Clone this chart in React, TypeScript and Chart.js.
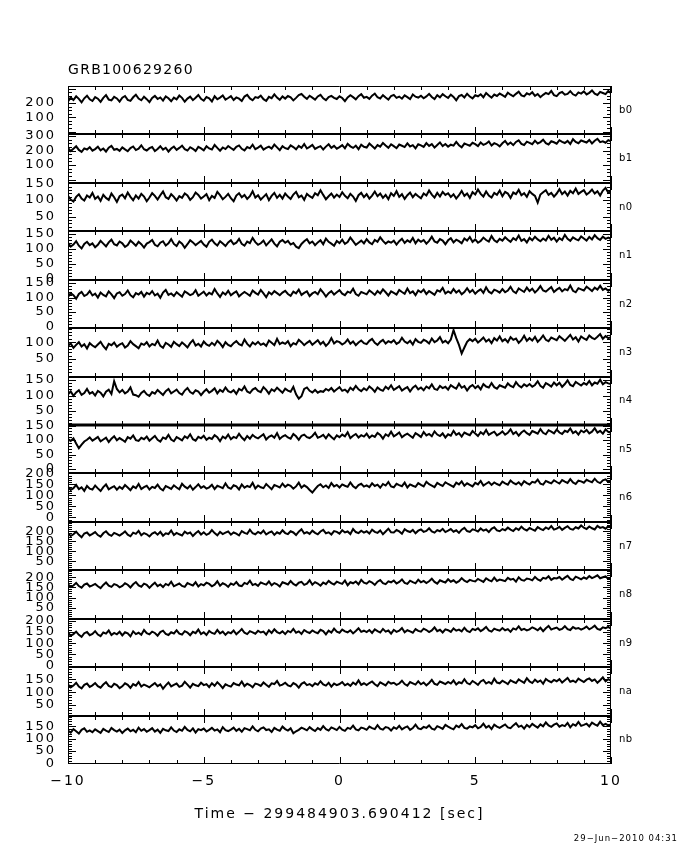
import React, { useEffect, useRef } from "react";
import { Chart, registerables } from "chart.js";

Chart.register(...registerables);

// ---- data -------------------------------------------------------------
const times = [
  -10,-9.9,-9.8,-9.7,-9.6,-9.5,-9.4,-9.3,-9.2,-9.1,
  -9,-8.9,-8.8,-8.7,-8.6,-8.5,-8.4,-8.3,-8.2,-8.1,
  -8,-7.9,-7.8,-7.7,-7.6,-7.5,-7.4,-7.3,-7.2,-7.1,
  -7,-6.9,-6.8,-6.7,-6.6,-6.5,-6.4,-6.3,-6.2,-6.1,
  -6,-5.9,-5.8,-5.7,-5.6,-5.5,-5.4,-5.3,-5.2,-5.1,
  -5,-4.9,-4.8,-4.7,-4.6,-4.5,-4.4,-4.3,-4.2,-4.1,
  -4,-3.9,-3.8,-3.7,-3.6,-3.5,-3.4,-3.3,-3.2,-3.1,
  -3,-2.9,-2.8,-2.7,-2.6,-2.5,-2.4,-2.3,-2.2,-2.1,
  -2,-1.9,-1.8,-1.7,-1.6,-1.5,-1.4,-1.3,-1.2,-1.1,
  -1,-0.9,-0.8,-0.7,-0.6,-0.5,-0.4,-0.3,-0.2,-0.1,
  0,0.1,0.2,0.3,0.4,0.5,0.6,0.7,0.8,0.9,
  1,1.1,1.2,1.3,1.4,1.5,1.6,1.7,1.8,1.9,
  2,2.1,2.2,2.3,2.4,2.5,2.6,2.7,2.8,2.9,
  3,3.1,3.2,3.3,3.4,3.5,3.6,3.7,3.8,3.9,
  4,4.1,4.2,4.3,4.4,4.5,4.6,4.7,4.8,4.9,
  5,5.1,5.2,5.3,5.4,5.5,5.6,5.7,5.8,5.9,
  6,6.1,6.2,6.3,6.4,6.5,6.6,6.7,6.8,6.9,
  7,7.1,7.2,7.3,7.4,7.5,7.6,7.7,7.8,7.9,
  8,8.1,8.2,8.3,8.4,8.5,8.6,8.7,8.8,8.9,
  9,9.1,9.2,9.3,9.4,9.5,9.6,9.7,9.8,9.9,
  10];

const b0Rates = [
  212,238,221,247,229,205,233,251,226,214,
  241,230,208,236,255,224,218,243,232,210,
  237,249,222,215,240,258,231,219,244,227,
  206,235,250,228,239,217,246,233,212,238,
  225,252,236,209,231,244,220,237,256,229,
  216,242,233,211,247,226,238,253,224,235,
  248,221,239,230,214,245,257,232,219,241,
  236,252,227,215,243,234,260,238,222,246,
  231,249,240,218,236,255,263,244,229,251,
  238,224,246,257,233,220,242,250,236,228,
  247,235,213,239,254,241,226,248,262,237,
  243,229,251,266,240,232,255,238,224,249,
  257,236,245,230,253,241,227,259,244,238,
  251,233,246,264,242,228,255,240,262,247,
  236,258,243,219,248,256,239,265,245,232,
  254,247,261,240,270,252,238,259,249,266,
  255,243,272,258,247,264,279,253,246,268,
  259,275,250,263,241,257,270,262,284,255,
  248,269,277,258,264,283,261,252,274,266,
  281,260,271,288,265,256,278,270,262,285,
  268];

const b1Rates = [
  218,196,213,229,204,191,215,207,223,199,
  210,226,201,214,193,219,232,205,211,198,
  222,208,195,217,228,203,213,236,209,200,
  216,224,197,211,230,206,219,193,214,227,
  205,218,233,209,200,223,212,196,225,215,
  202,229,214,207,238,218,199,221,210,231,
  217,204,226,235,212,201,224,215,240,209,
  220,233,206,218,227,213,241,222,203,230,
  216,210,236,224,208,232,219,245,214,225,
  238,211,222,230,207,227,243,218,232,213,
  224,237,215,246,229,218,233,209,240,226,
  221,248,231,214,238,227,252,235,219,242,
  230,216,241,233,224,249,228,237,215,243,
  236,225,251,232,244,220,238,256,231,245,
  227,240,234,259,237,222,248,241,233,253,
  244,230,256,239,247,262,235,251,243,229,
  250,266,241,255,237,259,270,246,238,261,
  253,244,268,249,258,275,251,242,264,257,
  247,271,260,252,266,245,278,259,250,269,
  262,255,273,249,267,281,258,264,254,272,
  263];

const n0Rates = [
  112,101,95,109,117,104,98,113,107,121,
  103,110,97,115,106,100,119,108,94,111,
  116,105,122,109,99,113,104,118,110,96,
  107,120,112,101,114,125,108,103,117,109,
  98,111,106,119,113,100,108,122,115,104,
  110,117,99,112,106,124,114,102,109,118,
  105,96,113,120,108,115,103,111,126,107,
  114,101,109,117,99,112,121,106,115,104,
  119,110,103,116,124,108,113,100,118,111,
  106,120,114,129,115,102,111,119,107,116,
  109,123,112,105,118,110,97,114,121,108,
  117,104,113,125,111,119,106,115,102,120,
  112,126,109,117,103,114,122,108,118,111,
  105,119,113,128,116,107,121,110,124,115,
  120,109,117,104,114,127,112,119,106,123,
  116,131,118,110,125,113,107,121,115,128,
  111,124,119,106,122,117,130,114,120,109,
  126,118,112,92,116,123,129,115,121,110,
  119,132,117,125,113,127,120,134,118,124,
  129,116,122,131,119,126,113,128,136,121,
  127];

const n1Rates = [
  121,108,115,126,111,102,117,124,113,119,
  106,114,127,118,109,122,131,116,112,125,
  119,107,113,128,120,111,124,116,105,118,
  123,130,114,109,121,126,112,119,133,117,
  110,125,118,104,116,129,122,113,120,127,
  115,108,124,131,119,112,126,118,110,122,
  129,116,121,134,117,111,125,120,137,123,
  114,119,128,112,122,132,118,109,124,130,
  121,127,115,120,108,103,117,126,133,119,
  125,113,122,129,116,135,124,118,111,127,
  120,131,117,123,138,126,114,121,128,119,
  133,122,116,130,124,139,127,118,125,121,
  128,115,126,134,120,129,123,137,119,131,
  124,130,118,127,141,125,121,133,128,116,
  129,136,122,131,126,119,135,128,140,124,
  132,121,127,138,130,125,143,129,123,134,
  128,139,131,124,136,130,145,127,133,122,
  137,129,141,132,126,135,128,144,131,138,
  125,136,130,147,134,127,139,133,129,142,
  135,128,140,132,146,136,130,141,134,138,
  133];

const n2Rates = [
  102,115,108,96,112,119,105,110,122,107,
  113,100,117,109,104,121,111,98,114,118,
  106,112,124,108,101,115,110,119,103,116,
  111,122,107,113,99,117,126,109,114,105,
  118,110,103,121,115,108,112,125,106,113,
  120,107,116,111,129,114,102,117,110,123,
  108,115,121,104,112,119,113,106,124,116,
  110,126,114,101,118,111,122,115,108,117,
  123,112,106,120,114,127,109,116,121,105,
  114,119,111,128,117,103,115,122,110,118,
  125,113,108,120,116,130,112,106,119,115,
  111,124,117,109,122,114,128,118,107,121,
  116,110,126,119,113,131,115,121,108,124,
  118,127,112,122,116,109,125,120,133,114,
  121,115,129,117,124,111,119,132,118,126,
  113,122,128,116,135,120,114,127,123,117,
  129,118,124,137,121,115,131,125,119,134,
  122,130,117,126,139,124,120,128,136,119,
  127,133,121,129,125,141,123,118,132,128,
  124,137,130,122,134,127,140,126,131,123,
  129];

const n3Rates = [
  89,96,83,92,100,87,94,81,97,90,
  85,93,101,88,79,95,91,99,86,93,
  97,84,90,103,94,88,82,96,92,100,
  87,95,91,105,89,83,98,93,86,101,
  94,88,99,92,84,97,106,90,95,87,
  102,93,89,98,91,104,96,85,100,92,
  88,97,103,94,90,108,95,87,99,93,
  101,92,96,89,105,98,91,110,94,99,
  95,103,88,97,93,107,100,91,98,104,
  92,99,106,94,101,89,97,112,96,103,
  100,93,98,108,95,102,91,99,105,97,
  94,104,110,98,92,101,107,96,103,99,
  106,95,100,113,102,97,104,93,109,101,
  98,107,103,96,111,100,105,115,99,104,
  97,108,136,112,92,66,84,101,109,103,
  110,99,106,114,102,108,97,112,105,117,
  103,109,100,115,107,111,98,106,119,104,
  112,105,116,101,109,120,107,103,114,110,
  106,118,111,104,113,122,108,115,102,117,
  111,107,120,113,109,116,124,110,118,112,
  115];

const n4Rates = [
  104,113,99,110,117,102,108,121,106,111,
  100,115,109,97,112,119,105,146,121,110,
  118,107,113,126,103,101,96,108,115,104,
  99,111,106,118,110,102,114,121,107,113,
  119,108,103,116,124,111,106,117,113,101,
  112,120,109,115,123,107,118,112,126,114,
  110,117,105,121,116,129,113,108,119,124,
  115,111,127,118,106,120,114,125,117,109,
  122,116,112,128,104,90,98,121,126,115,
  110,118,109,114,112,121,116,124,113,120,
  127,115,119,111,125,118,131,120,114,123,
  117,129,122,112,126,119,115,128,121,133,
  118,124,130,116,122,127,113,125,132,120,
  126,117,129,123,136,121,118,131,124,128,
  119,133,127,122,138,125,130,116,128,134,
  124,131,120,137,129,126,140,127,122,133,
  129,125,139,131,127,143,132,126,136,130,
  137,128,134,146,131,125,140,135,129,142,
  133,141,128,137,149,134,130,144,138,132,
  140,135,147,133,142,138,151,136,143,139,
  137];

const n5Rates = [
  103,97,106,88,72,84,95,101,109,98,
  104,111,96,102,108,93,105,113,99,107,
  101,94,110,105,116,100,97,108,103,112,
  98,106,114,101,95,109,104,118,102,96,
  110,105,99,113,107,120,103,98,111,106,
  115,101,108,104,117,110,96,112,106,119,
  103,111,107,122,109,100,114,105,118,110,
  106,113,120,102,111,116,108,124,104,112,
  117,109,105,121,113,101,115,119,110,107,
  114,125,108,112,118,106,120,111,103,116,
  110,119,113,127,107,115,121,109,117,112,
  122,108,116,111,125,118,105,120,114,129,
  113,119,126,110,117,122,115,108,124,118,
  111,128,116,121,113,130,119,114,123,109,
  120,115,132,118,124,112,126,121,117,131,
  123,114,127,120,135,118,124,129,116,122,
  130,119,125,137,121,128,115,126,133,124,
  118,131,127,122,138,125,120,134,129,123,
  136,126,121,132,128,140,124,130,119,133,
  127,135,123,129,141,126,132,122,137,128,
  125];

const n6Rates = [
  140,125,133,148,129,137,121,143,131,127,
  145,132,120,138,150,128,135,142,126,139,
  130,147,136,124,141,133,152,129,138,144,
  127,139,134,149,131,123,143,137,130,146,
  136,128,153,140,132,145,126,138,151,134,
  142,131,137,148,129,144,139,133,155,136,
  130,146,141,127,150,135,143,138,157,132,
  145,137,133,152,140,128,147,142,136,154,
  139,149,144,131,141,158,135,146,138,125,
  113,129,143,151,137,145,134,156,141,148,
  136,150,144,139,159,142,133,147,153,140,
  146,138,155,143,149,135,152,145,161,141,
  137,153,147,142,158,136,150,144,139,156,
  148,141,162,151,145,138,157,149,143,160,
  152,146,139,158,150,164,144,155,148,141,
  157,150,166,145,153,161,148,159,152,146,
  163,155,149,168,157,151,160,147,165,156,
  150,162,158,172,153,149,166,160,155,169,
  161,154,170,163,157,174,159,152,167,164,
  158,171,165,160,176,162,156,169,173,161,
  166];

const n7Rates = [
  191,176,185,198,182,170,189,194,179,187,
  196,181,173,190,200,184,177,192,186,178,
  188,199,183,175,193,187,202,180,191,185,
  174,189,195,183,197,178,190,186,204,181,
  192,185,179,198,188,194,176,190,201,184,
  195,182,189,206,191,180,197,186,193,199,
  183,194,188,179,201,192,187,208,190,185,
  197,189,203,184,193,199,182,195,188,205,
  191,186,200,194,181,198,210,189,196,187,
  203,192,185,199,207,190,195,184,201,197,
  188,205,194,199,186,211,196,191,203,193,
  200,189,208,197,192,204,185,199,213,195,
  194,206,199,188,210,201,196,207,190,203,
  209,197,202,215,199,193,206,200,212,196,
  203,211,198,205,192,208,217,201,197,210,
  206,199,214,203,209,196,212,220,204,200,
  211,205,218,208,201,215,207,223,210,204,
  216,209,203,221,212,206,219,211,226,208,
  213,222,207,217,225,212,208,220,214,229,
  218,211,224,215,209,227,217,221,213,225,
  219];

const n8Rates = [
  166,152,160,173,157,149,164,170,155,161,
  168,156,147,163,175,159,153,167,162,151,
  158,171,164,150,166,177,160,154,169,163,
  148,162,174,157,165,152,168,161,179,156,
  163,170,158,153,172,166,160,176,155,167,
  161,174,168,156,164,181,159,171,165,153,
  170,163,177,160,157,173,167,184,162,168,
  158,175,169,164,180,161,172,166,155,176,
  171,165,182,168,160,174,178,163,169,186,
  164,177,170,159,175,167,183,172,165,179,
  173,168,185,161,176,171,180,166,188,174,
  169,182,175,163,179,187,172,167,181,176,
  185,170,178,190,173,168,184,177,171,189,
  176,183,172,181,194,178,169,186,180,175,
  191,179,186,174,182,197,184,177,188,183,
  180,193,185,178,196,187,181,199,183,190,
  186,182,198,189,193,179,201,188,184,195,
  192,186,203,190,184,198,194,206,188,197,
  195,202,189,199,208,193,187,204,198,191,
  200,194,207,197,203,211,196,201,205,193,
  199];

const n9Rates = [
  146,133,140,151,137,128,144,149,135,141,
  153,138,131,147,142,156,136,145,139,150,
  134,148,143,130,152,140,146,137,158,144,
  139,151,145,133,149,155,141,136,148,143,
  157,142,138,153,147,135,150,144,160,140,
  148,136,154,145,141,158,143,151,137,149,
  144,156,139,150,162,146,140,153,148,142,
  155,147,151,138,157,145,161,149,143,152,
  140,154,148,163,146,152,141,158,150,145,
  156,149,144,159,153,139,155,147,164,151,
  146,160,152,148,157,143,154,166,150,155,
  149,158,145,161,153,147,163,151,156,142,
  159,150,155,167,148,157,152,146,162,154,
  151,164,158,149,156,170,153,159,147,161,
  157,150,165,155,160,152,168,154,149,163,
  158,166,153,161,172,156,151,164,159,155,
  167,157,162,150,165,160,174,158,163,156,
  161,170,164,157,168,153,166,176,160,165,
  169,159,163,175,162,158,171,164,167,160,
  165,173,161,168,177,163,159,170,166,172,
  164];

const naRates = [
  131,119,126,137,122,115,129,134,121,127,
  136,124,118,130,139,125,120,133,128,116,
  123,135,129,117,132,126,140,122,130,125,
  119,128,136,124,131,114,127,138,123,129,
  134,121,126,141,130,118,133,127,124,137,
  128,132,120,135,125,139,129,116,131,126,
  122,136,130,127,142,124,133,128,119,134,
  131,125,138,129,121,135,132,144,126,130,
  137,127,123,136,130,118,133,139,128,132,
  124,135,129,143,131,126,137,122,134,128,
  132,140,127,133,125,138,130,146,129,135,
  128,136,142,131,124,139,133,127,141,134,
  137,129,134,145,132,126,140,135,130,143,
  131,138,127,136,148,133,129,142,137,132,
  140,134,146,130,139,135,151,136,131,144,
  137,129,142,148,134,140,133,153,138,135,
  145,139,132,147,141,136,150,143,137,155,
  142,136,149,140,146,133,152,144,139,148,
  143,151,138,147,156,141,145,139,153,146,
  140,149,154,144,150,137,147,158,143,151,
  145];

const nbRates = [
  133,125,139,130,121,136,142,128,134,126,
  138,131,124,140,133,127,144,135,129,137,
  123,134,141,130,136,126,145,132,139,128,
  135,143,129,137,124,140,134,131,146,133,
  127,138,132,148,136,130,142,125,139,135,
  141,129,136,144,133,138,126,147,135,131,
  137,145,132,140,128,143,139,134,150,136,
  130,141,146,135,138,127,144,137,132,149,
  139,133,142,122,130,136,145,140,134,147,
  138,131,143,136,151,139,133,146,141,135,
  148,137,132,144,140,153,138,134,145,142,
  136,149,143,139,155,141,137,147,144,133,
  146,140,152,138,145,150,136,143,157,142,
  139,148,144,154,141,137,151,146,140,156,
  149,143,138,153,147,159,144,141,150,146,
  155,142,148,161,145,152,139,157,149,144,
  151,158,146,143,154,163,148,153,141,156,
  147,160,152,145,158,150,166,154,148,157,
  162,149,155,151,164,146,159,153,168,152,
  156,161,150,165,158,153,169,155,160,154,
  158];

const detectorNames = ["b0","b1","n0","n1","n2","n3","n4","n5","n6","n7","n8","n9","na","nb"];
const yMins = [-20,-23,6,-2,-5,-3,5,-15,-20,5,-6,-6,9,-3];
const yMaxs = [319,311,151,159,161,142,161,152,200,247,236,208,198,194];
const yLabelTicks = [
  [100,200],
  [100,200,300],
  [50,100,150],
  [0,50,100,150],
  [0,50,100,150],
  [50,100],
  [50,100,150],
  [0,50,100,150],
  [0,50,100,150,200],
  [50,100,150,200],
  [50,100,150,200],
  [0,50,100,150,200],
  [50,100,150],
  [0,50,100,150],
];
const yMajorSteps = [100,100,50,50,50,50,50,50,50,50,50,50,50,50];
const yMinorSteps = [25,25,10,10,10,10,10,10,10,10,10,10,10,10];

const xLabelTicks = [-10,-5,0,5,10];
const xMinorTicks = [-10,-9,-8,-7,-6,-5,-4,-3,-2,-1,0,1,2,3,4,5,6,7,8,9,10];

const titleText = "GRB100629260";
const xAxisTitle = "Time \u2212 299484903.690412 [sec]";
const dateText = "29\u2212Jun\u22122010 04:31";

const seriesList = [b0Rates,b1Rates,n0Rates,n1Rates,n2Rates,n3Rates,n4Rates,n5Rates,n6Rates,n7Rates,n8Rates,n9Rates,naRates,nbRates];

// ---- drawing ----------------------------------------------------------
const FONT = '"DejaVu Sans", sans-serif';

const framePlugin = {
  id: "gbmFrame",
  beforeDraw(chart: any) {
    chart.ctx.letterSpacing = "2px";
  },
  afterDraw(chart: any) {
    const ctx = chart.ctx;
    const area = chart.chartArea;
    const xs = chart.scales.x;
    const L = Math.round(area.left);
    const R = Math.round(area.right);
    const T = Math.round(area.top);
    const B = Math.round(area.bottom);
    ctx.save();
    ctx.strokeStyle = "#000";
    ctx.fillStyle = "#000";

    ctx.lineWidth = 1;
    ctx.beginPath();
    ctx.moveTo(L + 0.5, T);
    ctx.lineTo(L + 0.5, B);
    ctx.moveTo(R - 0.5, T);
    ctx.lineTo(R - 0.5, B);
    ctx.moveTo(L, T + 0.5);
    ctx.lineTo(R, T + 0.5);
    ctx.moveTo(L, B - 0.5);
    ctx.lineTo(R, B - 0.5);
    ctx.stroke();

    detectorNames.forEach((name, i) => {
      const ys = chart.scales["y" + i];
      const top = Math.round(ys.top);
      const bottom = Math.round(ys.bottom);
      if (i > 0) {
        // the n5 pad border is drawn heavier in the original print
        ctx.lineWidth = name === "n5" ? 3 : 2;
        ctx.beginPath();
        ctx.moveTo(L, top);
        ctx.lineTo(R, top);
        ctx.stroke();
      }
      ctx.lineWidth = 1;
      ctx.beginPath();
      xMinorTicks.forEach((v) => {
        const px = Math.round(xs.getPixelForValue(v)) + 0.5;
        const len = xLabelTicks.includes(v) ? 7 : 4;
        ctx.moveTo(px, top);
        ctx.lineTo(px, top + len);
        ctx.moveTo(px, bottom);
        ctx.lineTo(px, bottom - len);
      });
      const minor = yMinorSteps[i];
      const major = yMajorSteps[i];
      for (let v = Math.ceil(yMins[i] / minor) * minor; v <= yMaxs[i]; v += minor) {
        const py = Math.round(ys.getPixelForValue(v)) + 0.5;
        if (py < top || py > bottom) continue;
        const len = v % major === 0 ? 8 : 4;
        ctx.moveTo(L, py);
        ctx.lineTo(L + len, py);
        ctx.moveTo(R, py);
        ctx.lineTo(R - len, py);
      }
      ctx.stroke();

      ctx.font = "10px " + FONT;
      ctx.letterSpacing = "0.5px";
      ctx.textAlign = "left";
      ctx.textBaseline = "middle";
      ctx.fillText(name, R + 8, (ys.top + ys.bottom) / 2);
    });

    ctx.font = "14px " + FONT;
    ctx.letterSpacing = "1.3px";
    ctx.textAlign = "left";
    ctx.textBaseline = "middle";
    ctx.fillText(titleText, 68, 70);

    ctx.font = "8.5px " + FONT;
    ctx.letterSpacing = "1px";
    ctx.textAlign = "right";
    ctx.fillText(dateText, 678, 839);
    ctx.restore();
  },
};

function buildConfig(): any {
  const scales: any = {
    x: {
      type: "linear",
      position: "bottom",
      min: -10,
      max: 10,
      grid: { display: false, drawTicks: false, tickLength: 0 },
      border: { display: false },
      afterBuildTicks: (s: any) => {
        s.ticks = xLabelTicks.map((v) => ({ value: v }));
      },
      afterFit: (s: any) => {
        s.height = 86;
        s.paddingLeft = 0;
        s.paddingRight = 0;
      },
      ticks: {
        autoSkip: false,
        maxRotation: 0,
        padding: 9,
        color: "#000",
        font: { family: FONT, size: 14 },
        callback: (v: number) => (v < 0 ? "\u2212" + Math.abs(v) : String(v)),
      },
      title: {
        display: true,
        text: xAxisTitle,
        color: "#000",
        font: { family: FONT, size: 14 },
        padding: { top: 0, bottom: 27 },
      },
    },
  };
  detectorNames.forEach((_, i) => {
    scales["y" + i] = {
      type: "linear",
      position: "left",
      stack: "panels",
      stackWeight: 1,
      weight: detectorNames.length - i,
      min: yMins[i],
      max: yMaxs[i],
      grid: { display: false, drawTicks: false, tickLength: 0 },
      border: { display: false },
      afterBuildTicks: (s: any) => {
        s.ticks = yLabelTicks[i].map((v) => ({ value: v }));
      },
      afterFit: (s: any) => {
        s.width = 60;
        s.paddingTop = 0;
        s.paddingBottom = 0;
        s.paddingLeft = 0;
        s.paddingRight = 0;
      },
      ticks: {
        autoSkip: false,
        padding: 12,
        color: "#000",
        font: { family: FONT, size: 13 },
        callback: (v: number) => String(v),
      },
    };
  });

  const datasets = seriesList.map((series, i) => ({
    label: detectorNames[i],
    data: times.map((t, j) => ({ x: t, y: series[j] })),
    xAxisID: "x",
    yAxisID: "y" + i,
    borderColor: "#000",
    borderWidth: 2,
    pointRadius: 0,
    tension: 0,
    fill: false,
  }));

  return {
    type: "line",
    data: { datasets },
    options: {
      responsive: false,
      animation: false,
      events: [],
      layout: { padding: { top: 86, left: 8, right: 69, bottom: 0 } },
      plugins: { legend: { display: false }, tooltip: { enabled: false } },
      scales,
    },
    plugins: [framePlugin],
  };
}

export default function App() {
  const ref = useRef<HTMLCanvasElement>(null);
  useEffect(() => {
    const chart = new Chart(ref.current as HTMLCanvasElement, buildConfig());
    return () => chart.destroy();
  }, []);
  return (
    <canvas
      ref={ref}
      width={680}
      height={850}
      style={{ position: "absolute", left: 0, top: 0, width: 680, height: 850, background: "#fff" }}
    />
  );
}
